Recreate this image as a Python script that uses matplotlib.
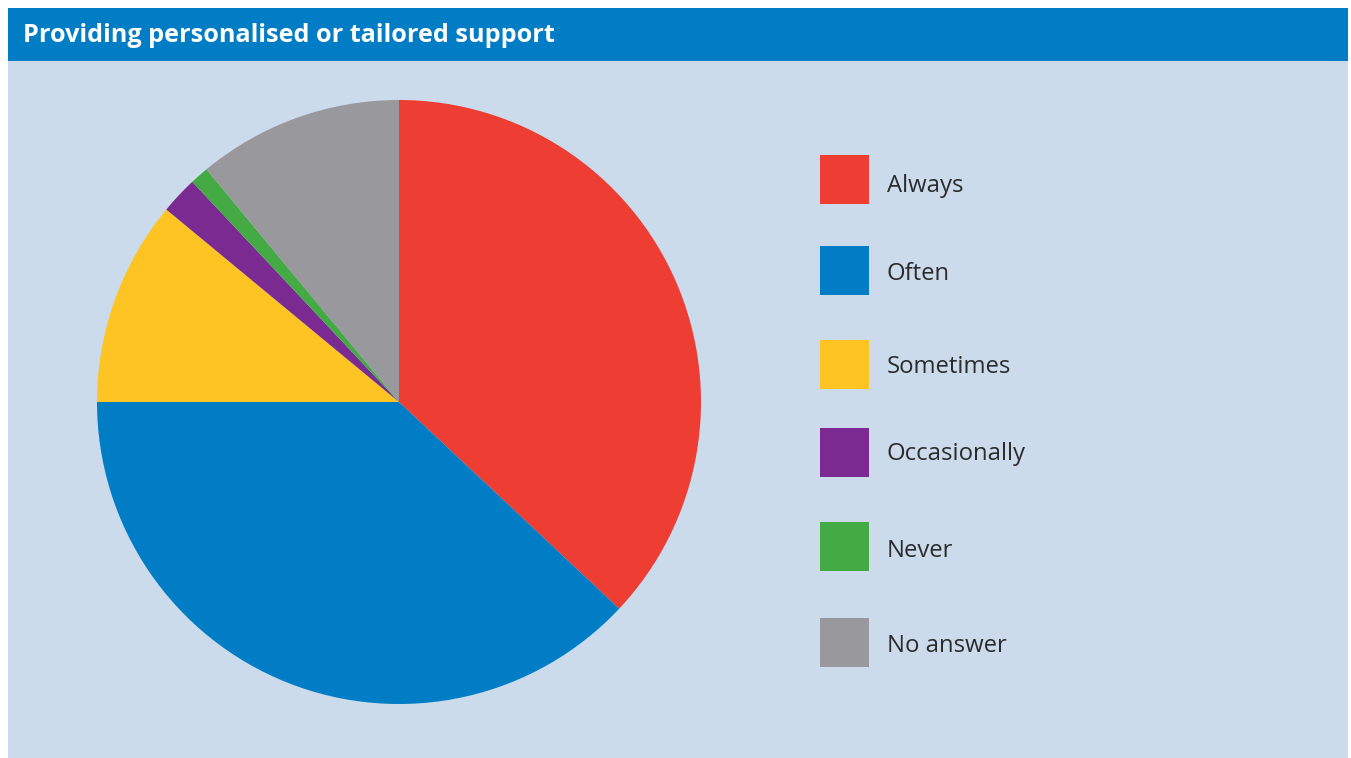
import matplotlib
matplotlib.use("Agg")
import matplotlib.pyplot as plt
from matplotlib.patches import Rectangle

title = "Providing personalised or tailored support"
categories = ["Always", "Often", "Sometimes", "Occasionally", "Never", "No answer"]
values = [37, 38, 11, 2, 1, 11]
colors = ["#EE3E34", "#007DC5", "#FEC424", "#7A2A90", "#43AA44", "#98989D"]

W, H = 1351, 758
fig = plt.figure(figsize=(W / 100, H / 100), dpi=100)
fig.patch.set_facecolor("white")

bg = fig.add_axes([0, 0, 1, 1])
bg.set_xlim(0, W)
bg.set_ylim(H, 0)
bg.axis("off")
bg.add_patch(Rectangle((8, 8), 1340, 750, facecolor="#CBDBEC", edgecolor="none"))
bg.add_patch(Rectangle((8, 8), 1340, 53, facecolor="#007DC5", edgecolor="none"))
bg.text(23, 35, title, color="white", fontsize=18.2, fontweight="bold",
        family="Open Sans", va="center", ha="left")

# legend layout (pixels): square centres and text baselines
legend_y = [179, 270.5, 364.5, 452.5, 546.5, 642.5]
text_base = [192.5, 280, 373.3, 460, 557, 651.5]
for c, col, y, tb in zip(categories, colors, legend_y, text_base):
    bg.add_patch(Rectangle((820, y - 24.5), 49, 49, facecolor=col, edgecolor="none"))
    bg.text(887, tb, c, color="#2B2B2B", fontsize=17.2, family="Open Sans",
            va="baseline", ha="left")

cx, cy, r = 399, 402, 302
ax = fig.add_axes([(cx - r) / W, (H - cy - r) / H, 2 * r / W, 2 * r / H])
ax.pie(values, colors=colors, startangle=90, counterclock=False,
       wedgeprops=dict(linewidth=0, edgecolor="none"))
ax.set_xlim(-1, 1)
ax.set_ylim(-1, 1)
ax.set_aspect("auto")
ax.axis("off")

fig.savefig("out.png", dpi=100)
